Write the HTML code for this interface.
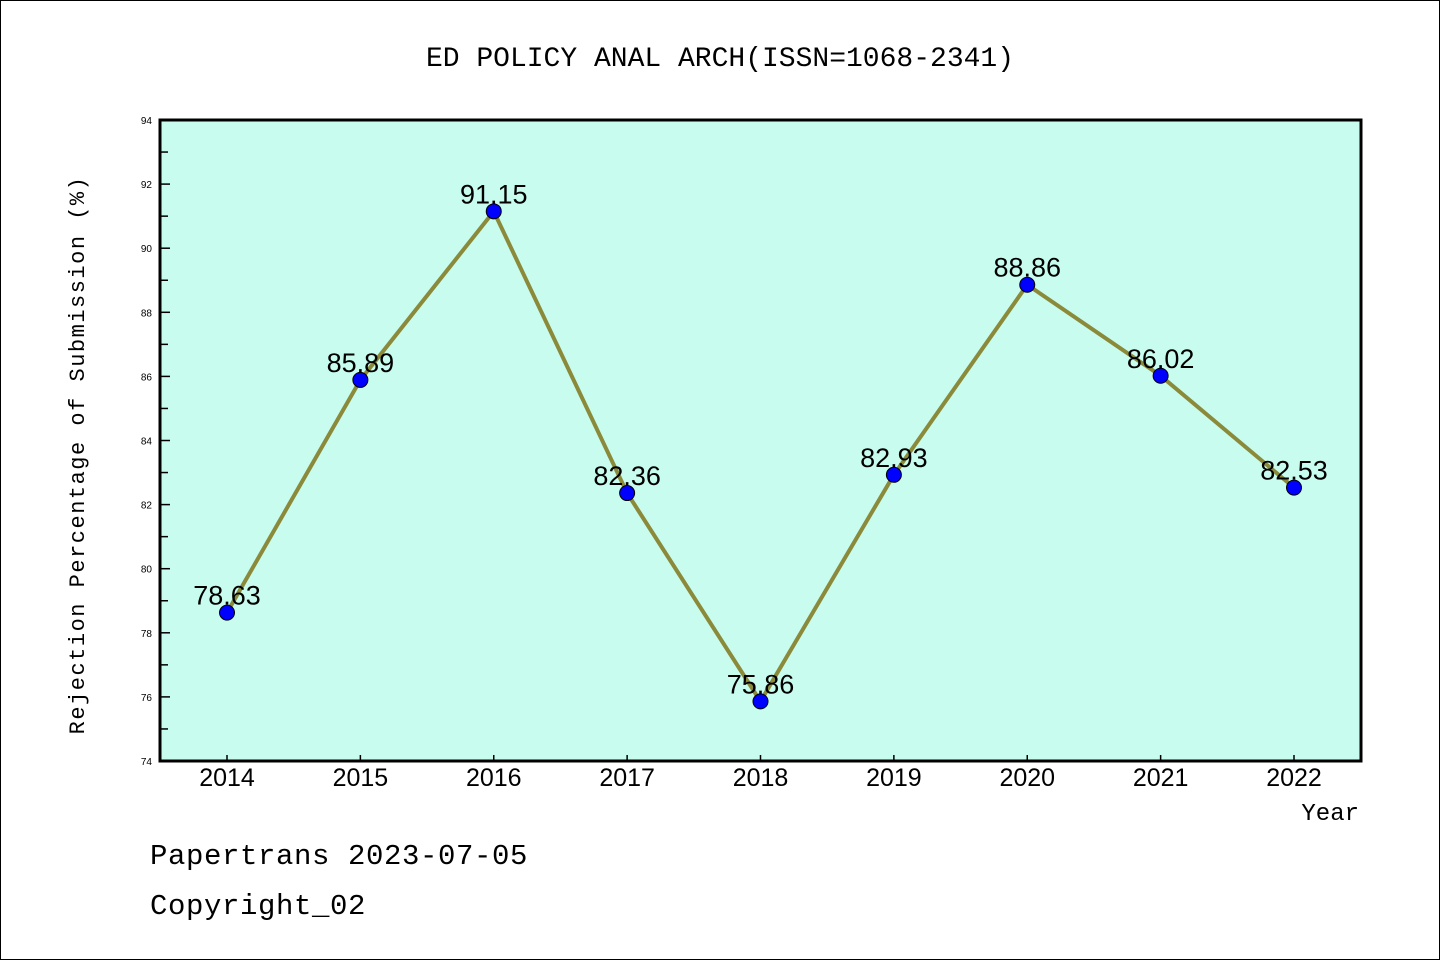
<!DOCTYPE html>
<html><head><meta charset="utf-8"><style>
html,body{margin:0;padding:0;background:#fff}
svg{display:block}
text{font-family:"WenQuanYi Zen Hei","Liberation Mono",monospace}
.sans{font-family:"Liberation Sans",sans-serif}
</style></head><body>
<svg id="chart" width="1440" height="960" xmlns="http://www.w3.org/2000/svg">
<rect x="0.5" y="0.5" width="1439" height="959" fill="#fff" stroke="#000" stroke-width="1"/>
<text x="720" y="66" font-size="28" text-anchor="middle">ED POLICY ANAL ARCH(ISSN=1068-2341)</text>
<rect x="160" y="120" width="1201" height="641" fill="#c7fcef"/>
<g id="axes"></g>
<g id="marks"></g>
<rect x="160" y="120" width="1201" height="641" fill="none" stroke="#000" stroke-width="3"/>
<text transform="translate(84,455) rotate(-90)" font-size="22" text-anchor="middle" letter-spacing="1.5">Rejection Percentage of Submission (%)</text>
<text x="1359" y="820" font-size="24" text-anchor="end">Year</text>
<text x="150" y="864" font-size="29" letter-spacing="0.6">Papertrans 2023-07-05</text>
<text x="150" y="914" font-size="29" letter-spacing="0.6">Copyright_02</text>
</svg>
<script>
const categories=["2014","2015","2016","2017","2018","2019","2020","2021","2022"];
const values=[78.63,85.89,91.15,82.36,75.86,82.93,88.86,86.02,82.53];
const valueLabels=["78.63","85.89","91.15","82.36","75.86","82.93","88.86","86.02","82.53"];
const yTicks=[74,76,78,80,82,84,86,88,90,92,94];
const NS="http://www.w3.org/2000/svg";
const x0=160,x1=1361,y0=761,y1=120,yMin=74,yMax=94;
const xs=i=>227+i*(1294-227)/(categories.length-1);
const ys=v=>y0-(v-yMin)/(yMax-yMin)*(y0-y1);
function mk(tag,attrs,parent){const e=document.createElementNS(NS,tag);for(const k in attrs)e.setAttribute(k,attrs[k]);parent.appendChild(e);return e;}
const axes=document.getElementById('axes'),marks=document.getElementById('marks');
yTicks.forEach((t,i)=>{
  const y=ys(t);
  const l=mk('line',{x1:x0,x2:x0+10,y1:y,y2:y,stroke:'#000','stroke-width':1.5},axes);
  
  
  const tx=mk('text',{x:152,y:y+4,'font-size':10,'text-anchor':'end',class:'sans'},axes);
  tx.textContent=t;
  
  
  if(i<yTicks.length-1){const ym=ys(t+1);
    const m=mk('line',{x1:x0,x2:x0+8,y1:ym,y2:ym,stroke:'#000','stroke-width':1.5},axes);
    
    }
});
categories.forEach((c,i)=>{
  const x=xs(i);
  const l=mk('line',{x1:x,x2:x,y1:y0,y2:y0-6,stroke:'#000','stroke-width':1.5},axes);
  
  
  const tx=mk('text',{x:x,y:786,'font-size':25,'text-anchor':'middle',class:'sans'},axes);
  tx.textContent=c;
  
  
});
const pts=values.map((v,i)=>xs(i)+','+ys(v)).join(' ');
const line=mk('polyline',{points:pts,fill:'none',stroke:'#8b8a3a','stroke-width':4},marks);


values.forEach((v,i)=>{
  const c=mk('circle',{cx:xs(i),cy:ys(v),r:7.5,fill:'#0000ff',stroke:'#000','stroke-width':1},marks);
  
  
  const t=mk('text',{x:xs(i),y:ys(v)-8,'font-size':27,'text-anchor':'middle',class:'sans'},marks);
  t.textContent=valueLabels[i];
  
  
});
</script>
</body></html>
